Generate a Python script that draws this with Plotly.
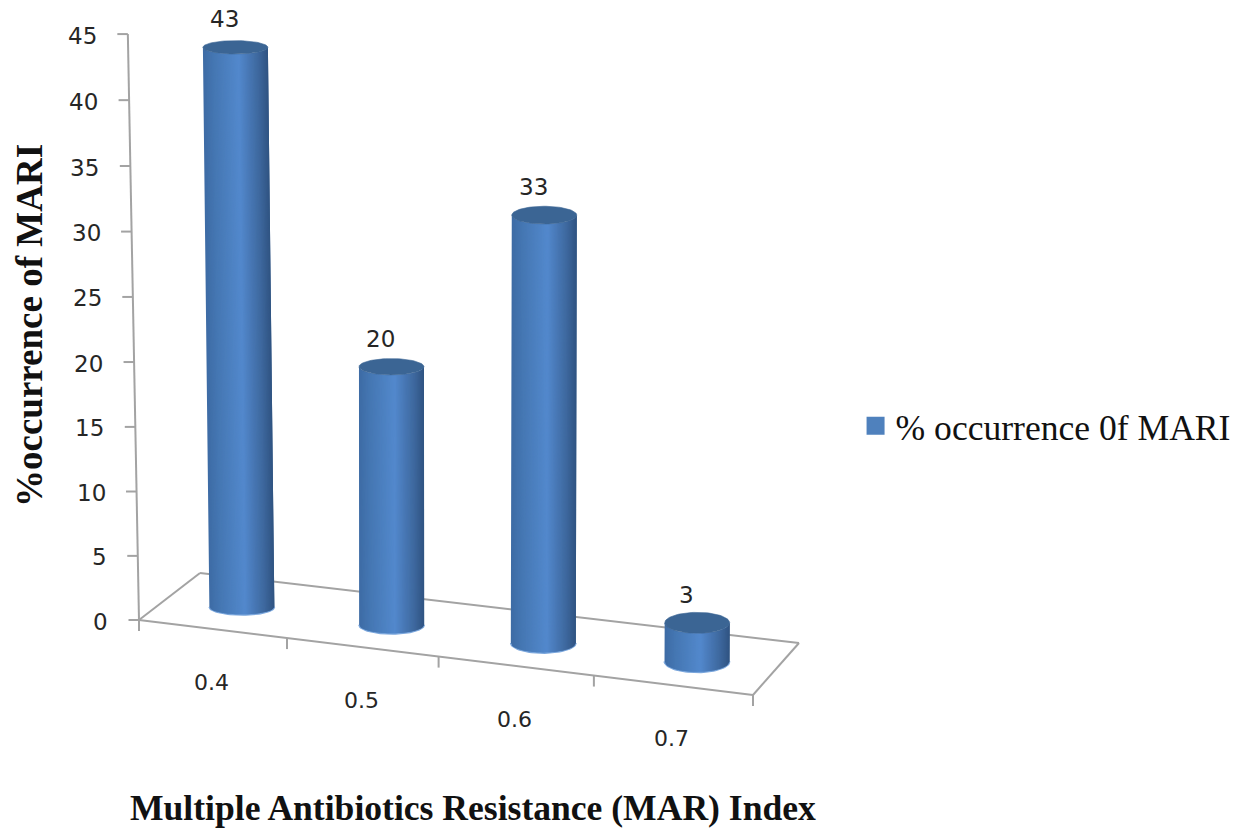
import numpy as np
import plotly.graph_objects as go

# Chart data
categories = ["0.4", "0.5", "0.6", "0.7"]
values = [43, 20, 33, 3]
value_ticks = [0, 5, 10, 15, 20, 25, 30, 35, 40, 45]
series_name = "% occurrence 0f MARI"
x_title = "Multiple Antibiotics Resistance (MAR) Index"
y_title = "%occurrence of MARI"

W, H = 1249, 829

# Oblique view of the chart box: corners of the floor on the drawing plane
FRONT_LEFT = np.array([139.0, 620.0])
FRONT_RIGHT = np.array([753.0, 695.0])
BACK_RIGHT = np.array([799.0, 643.0])
BACK_LEFT = np.array([200.0, 573.0])
UNIT_HEIGHT = 12.8       # drawing units per percentage point near the floor
UNIT_GROWTH = 0.0049     # the scale opens up slightly towards the top of the axis
VANISH_X = 400.0         # verticals lean towards this column
LEAN_LEFT = 0.00095
LEAN_RIGHT = 0.0002
FORESHORTEN = -0.047     # front edge categories narrow slightly with distance
BAR_DEPTH = 0.47
RADIUS = 32.5


def project(cat, depth, value):
    """Map (category position, depth 0..1, value) to the drawing plane."""
    u = cat / len(categories)
    u_front = u * (1 + FORESHORTEN) / (1 + FORESHORTEN * u)
    front = FRONT_LEFT + u_front * (FRONT_RIGHT - FRONT_LEFT)
    back = BACK_LEFT + u * (BACK_RIGHT - BACK_LEFT)
    p = front + depth * (back - front)
    lean = LEAN_LEFT if p[0] < VANISH_X else LEAN_RIGHT
    return p[0] + (p[0] - VANISH_X) * lean * value, p[1] - (UNIT_HEIGHT + UNIT_GROWTH * value) * value


def ellipse_height(x, value):
    return 6.0 + 0.0065 * x - 0.02 * value


def mix(stops, t):
    xs = [s[0] for s in stops]
    rgb = [np.interp(t, xs, [s[1][i] for s in stops]) for i in range(3)]
    return "rgb(%d,%d,%d)" % tuple(rgb)


SHADE = [(0.0, (62, 108, 165)), (0.18, (70, 120, 180)), (0.55, (83, 137, 205)),
         (0.85, (62, 104, 158)), (1.0, (48, 84, 130))]
CAP = "#3b6594"
RIM = "#7aa6dc"
AXIS = "#a3a3a3"
TEXT = "#262626"
TITLE = "#111111"

fig = go.Figure()


def add_lines(segments, color=AXIS, width=2):
    xs, ys = [], []
    for a, b in segments:
        xs += [a[0], b[0], None]
        ys += [a[1], b[1], None]
    fig.add_trace(go.Scatter(x=xs, y=ys, mode="lines", showlegend=False, hoverinfo="skip",
                             line=dict(color=color, width=width)))


n = len(categories)
# Floor outline and value axis
add_lines([(project(0, 0, 0), project(n, 0, 0)), (project(n, 0, 0), project(n, 1, 0)),
           (project(n, 1, 0), project(0, 1, 0)), (project(0, 1, 0), project(0, 0, 0)),
           (project(0, 0, 0), project(0, 0, value_ticks[-1]))])
tick_segments = []
for v in value_ticks:
    x, y = project(0, 0, v)
    tick_segments.append(((x - 10.5, y), (x, y)))
for c in range(n + 1):
    x, y = project(c, 0, 0)
    tick_segments.append(((x, y), (x, y + 11)))
add_lines(tick_segments)

# Cylinder rims just under the shaded sides
theta_low = np.linspace(0, np.pi, 40)
rim_x, rim_y = [], []
for c in range(n):
    bx, by = project(c + 0.5, BAR_DEPTH, 0)
    ry = ellipse_height(bx, 0)
    rim_x += list(bx + RADIUS * np.cos(theta_low)) + [None]
    rim_y += list(by + (ry + 0.5) * np.sin(theta_low)) + [None]
fig.add_trace(go.Scatter(x=rim_x, y=rim_y, mode="lines", showlegend=False, hoverinfo="skip",
                         line=dict(color=RIM, width=2)))

# Cylinder sides: overlapping vertical strips painted left to right give a seamless shade
STRIPS = 56
edges = np.linspace(-1, 1, STRIPS + 1)
for i in range(STRIPS):
    xs, ys = [], []
    a, b = edges[i], edges[min(i + 2, STRIPS)]
    sa, sb = np.sqrt(1 - a * a), np.sqrt(max(1 - b * b, 0))
    for c, v in enumerate(values):
        bx, by = project(c + 0.5, BAR_DEPTH, 0)
        tx, ty = project(c + 0.5, BAR_DEPTH, v)
        rb, rt = ellipse_height(bx, 0), ellipse_height(bx, v)
        xs += [bx + RADIUS * a, bx + RADIUS * b, tx + RADIUS * b, tx + RADIUS * a, bx + RADIUS * a, None]
        ys += [by + rb * sa, by + rb * sb, ty + rt * sb, ty + rt * sa, by + rb * sa, None]
    fig.add_trace(go.Scatter(x=xs, y=ys, mode="lines", fill="toself", fillcolor=mix(SHADE, (i + 0.5) / STRIPS),
                             showlegend=False, hoverinfo="skip", line=dict(width=0)))

# Flat caps on top of the cylinders
theta = np.linspace(0, 2 * np.pi, 80)
cap_x, cap_y = [], []
for c, v in enumerate(values):
    tx, ty = project(c + 0.5, BAR_DEPTH, v)
    ry = ellipse_height(project(c + 0.5, BAR_DEPTH, 0)[0], v)
    cap_x += list(tx + RADIUS * np.cos(theta)) + [None]
    cap_y += list(ty + ry * np.sin(theta)) + [None]
fig.add_trace(go.Scatter(x=cap_x, y=cap_y, mode="lines", fill="toself", fillcolor=CAP, showlegend=False,
                         hoverinfo="skip", line=dict(color=CAP, width=0.6)))

# Legend entry
fig.add_trace(go.Scatter(x=[None], y=[None], mode="markers", name=series_name, showlegend=True,
                         marker=dict(symbol="square", size=16, color="#4f81bd",
                                     line=dict(color="#4f81bd", width=2))))

annotations = []


def label(x, y, text, size, family="DejaVu Sans", anchor="center", color=TEXT, **kw):
    annotations.append(dict(x=x, y=y, xref="x", yref="y", text=text, showarrow=False, xanchor=anchor,
                            yanchor="middle", font=dict(family=family, size=size, color=color), **kw))


for v in value_ticks:
    x, y = project(0, 0, v)
    label(x - 29, y + 1.5, str(v), 23, anchor="right")
for c, name in enumerate(categories):
    x, y = project(c + 0.5, 0, 0)
    label(x - 1.3, y + 53.3, name, 22)
for c, v in enumerate(values):
    x, y = project(c + 0.5, BAR_DEPTH, v)
    label(x - 11, y - 28, str(v), 23)

label(473, 808, "<b>%s</b>" % x_title, 35.6, family="Liberation Serif", color=TITLE)
label(29, 326, "<b>%s</b>" % y_title, 37, family="Liberation Serif", color=TITLE, textangle=-90)

fig.update_layout(
    width=W, height=H, margin=dict(l=0, r=0, t=0, b=0),
    paper_bgcolor="white", plot_bgcolor="white",
    xaxis=dict(range=[0, W], visible=False, fixedrange=True),
    yaxis=dict(range=[H, 0], visible=False, fixedrange=True),
    annotations=annotations,
    legend=dict(x=0.685, y=0.486, xanchor="left", yanchor="middle", bgcolor="rgba(0,0,0,0)",
                font=dict(family="Liberation Serif", size=35.6, color=TITLE)),
)
fig.write_html("out.html")
